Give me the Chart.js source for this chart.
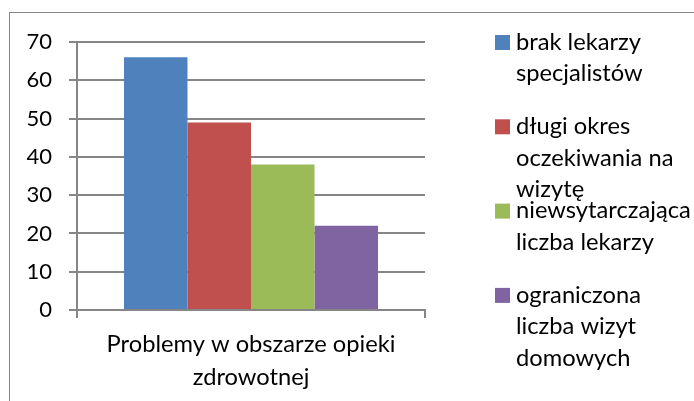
<!DOCTYPE html>
<html>
<head>
<meta charset="utf-8">
<script src="https://cdn.jsdelivr.net/npm/chart.js@4"></script>
<style>
  html, body { margin: 0; padding: 0; background: #fff; }
  #wrap { width: 694px; height: 401px; }
</style>
</head>
<body>
<div id="wrap"><canvas id="chart" width="694" height="401"></canvas></div>
<script>
// data
const categories = [['Problemy w obszarze opieki', 'zdrowotnej']];
const seriesNames = [
    ['brak lekarzy', 'specjalistów'],
    ['długi okres', 'oczekiwania na', 'wizytę'],
    ['niewsytarczająca', 'liczba lekarzy'],
    ['ograniczona', 'liczba wizyt', 'domowych']
];
const seriesValues = [[66], [49], [38], [22]];
const seriesColors = ['#4f81bd', '#c0504d', '#9bbb59', '#8064a2'];
const yTicks = [0, 10, 20, 30, 40, 50, 60, 70];

const FONT = 'Lato, "Open Sans", sans-serif';
const GRAY = '#868686';

// outer frame + legend drawn by hand (Excel-like wrapped legend)
const excelLegend = {
    id: 'excelLegend',
    beforeDraw(chart) {
        const ctx = chart.ctx;
        ctx.save();
        ctx.fillStyle = '#fff';
        ctx.fillRect(0, 0, chart.width, chart.height);
        ctx.strokeStyle = GRAY;
        ctx.lineWidth = 1;
        ctx.strokeRect(9.5, 12.5, 1000, 1000);
        ctx.restore();
    },
    afterDraw(chart) {
        const ctx = chart.ctx;
        ctx.save();
        ctx.font = '23.7px ' + FONT;
        ctx.textBaseline = 'middle';
        chart.data.datasets.forEach((ds, i) => {
            const y0 = 42 + i * 84.3;
            ctx.fillStyle = ds.backgroundColor;
            ctx.fillRect(495, y0 - 7, 15, 15);
            ctx.fillStyle = '#000';
            ds.label.forEach((line, j) => {
                ctx.fillText(line, 516, y0 + j * 31.7);
            });
        });
        ctx.restore();
    }
};

new Chart(document.getElementById('chart'), {
    type: 'bar',
    data: {
        labels: categories,
        datasets: seriesNames.map((name, i) => ({
            label: name,
            data: seriesValues[i],
            backgroundColor: seriesColors[i],
            borderWidth: 0,
            categoryPercentage: 0.73,
            barPercentage: 1.0
        }))
    },
    options: {
        responsive: false,
        animation: false,
        events: [],
        layout: { padding: { left: 0, top: 42, right: 269, bottom: 0 } },
        plugins: {
            legend: { display: false },
            tooltip: { enabled: false },
            title: { display: false }
        },
        scales: {
            x: {
                grid: {
                    offset: true,
                    drawOnChartArea: false,
                    drawTicks: true,
                    tickLength: 8,
                    color: GRAY,
                    lineWidth: 2
                },
                border: { display: true, color: GRAY, width: 2 },
                ticks: {
                    color: '#000',
                    padding: 10,
                    font: { family: FONT, size: 23.7, lineHeight: 1.39 }
                },
                afterFit(scale) { scale.height = 91; }
            },
            y: {
                min: 0,
                max: 70,
                afterBuildTicks(scale) { scale.ticks = yTicks.map(v => ({ value: v })); },
                grid: {
                    color: GRAY,
                    lineWidth: 2,
                    drawTicks: true,
                    tickLength: 8
                },
                border: { display: true, color: GRAY, width: 2 },
                ticks: {
                    color: '#000',
                    padding: 17,
                    font: { family: FONT, size: 22 }
                },
                afterFit(scale) { scale.width = 77; }
            }
        }
    },
    plugins: [excelLegend]
});
</script>
</body>
</html>
